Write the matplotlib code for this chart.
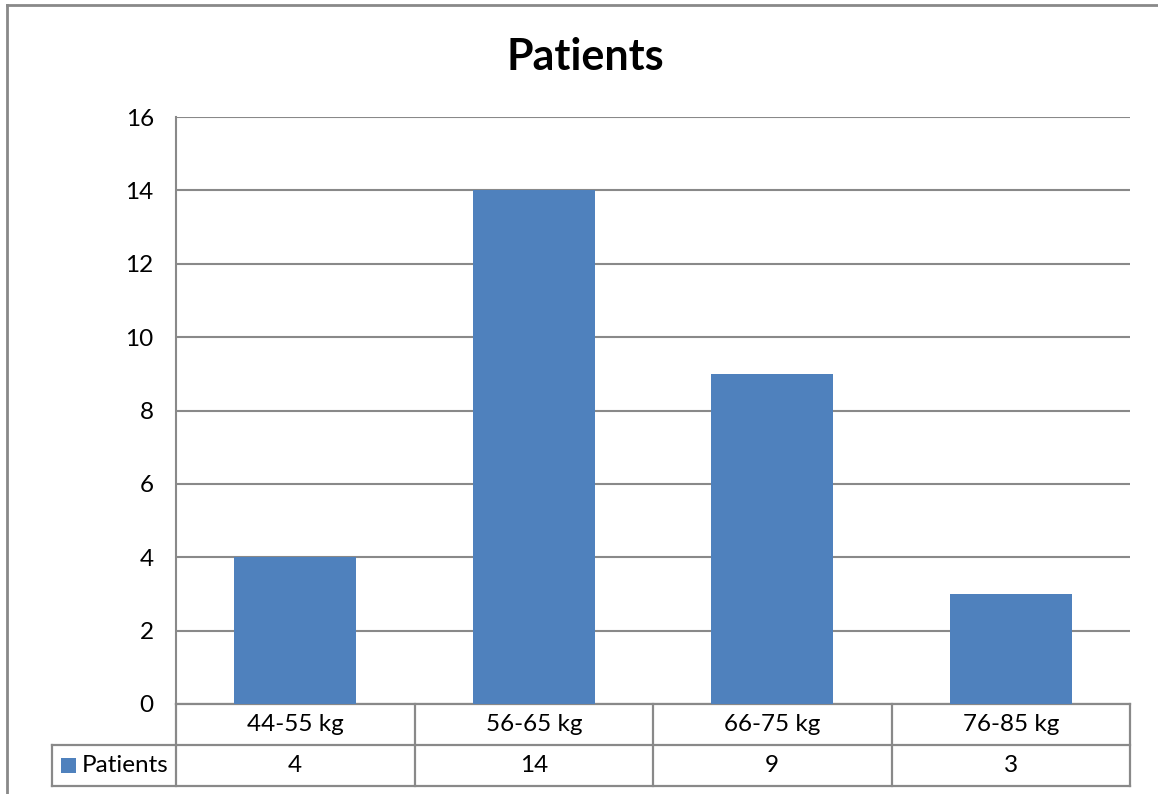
import matplotlib
matplotlib.use("Agg")
import matplotlib.pyplot as plt
import matplotlib.transforms as mtransforms
from matplotlib.patches import Rectangle

categories = ["44-55 kg", "56-65 kg", "66-75 kg", "76-85 kg"]
patients = [4, 14, 9, 3]
series_name = "Patients"
y_ticks = [0, 2, 4, 6, 8, 10, 12, 14, 16]

bar_color = "#4F81BD"
line_color = "#898989"

plt.rcParams["font.family"] = ["Lato", "DejaVu Sans"]

W, H = 1158, 794
fig = plt.figure(figsize=(W / 100, H / 100), dpi=100)

# plot area in pixels (left, top, right, bottom)
L, T, R, B = 176, 117, 1130, 704
ax = fig.add_axes([L / W, 1 - B / H, (R - L) / W, (B - T) / H])

x = list(range(len(categories)))
ax.bar(x, patients, width=0.51, color=bar_color, zorder=3)
ax.set_xlim(-0.5, len(categories) - 0.5)
ax.set_ylim(0, 16)
ax.set_yticks(y_ticks)
ax.set_xticks([])
ax.tick_params(axis="y", length=0, labelsize=17.5, pad=16)
ax.yaxis.grid(True, color=line_color, linewidth=1.5, zorder=0)
for s in ["top", "right", "bottom"]:
    ax.spines[s].set_visible(False)
ax.spines["left"].set_color(line_color)
ax.spines["left"].set_linewidth(1.5)

fig.text(585 / W, 1 - 57 / H, "Patients", ha="center", va="center",
         fontsize=31, fontweight="bold")

# data table under the plot
blend = mtransforms.blended_transform_factory(ax.transData, ax.transAxes)
ph = B - T
r1 = -(745 - B) / ph
r2 = -(786 - B) / ph
x0 = -0.5
x1 = len(categories) - 0.5
legend_left = x0 - (L - 52) / ((R - L) / len(categories))

kw = dict(color=line_color, linewidth=1.6, transform=blend, clip_on=False)
ax.plot([x0, x1], [0, 0], **kw)
ax.plot([legend_left, x1], [r1, r1], **kw)
ax.plot([legend_left, x1], [r2, r2], **kw)
ax.plot([legend_left, legend_left], [r1, r2], **kw)
for b in range(len(categories) + 1):
    ax.plot([x0 + b, x0 + b], [0, r2], **kw)

for i, (c, v) in enumerate(zip(categories, patients)):
    ax.text(i, r1 / 2, c, ha="center", va="center", fontsize=17.5,
            transform=blend)
    ax.text(i, (r1 + r2) / 2, str(v), ha="center", va="center",
            fontsize=17.5, transform=blend)

# legend key in the table
cell_w = (R - L) / len(categories)
key_x = legend_left + 9 / cell_w
key_w = 15 / cell_w
key_h = 15 / ph
ax.add_patch(Rectangle((key_x, (r1 + r2) / 2 - key_h / 2), key_w, key_h,
                       facecolor=bar_color, edgecolor="none",
                       transform=blend, clip_on=False))
ax.text(key_x + key_w + 6 / cell_w, (r1 + r2) / 2, series_name,
        ha="left", va="center", fontsize=17.5, transform=blend)

# outer chart frame
fig.add_artist(plt.Line2D([7 / W, 7 / W], [0, 1 - 5 / H], color=line_color,
                          linewidth=2, transform=fig.transFigure))
fig.add_artist(plt.Line2D([7 / W, 1], [1 - 5 / H, 1 - 5 / H], color=line_color,
                          linewidth=2, transform=fig.transFigure))

fig.savefig("out.png", dpi=100)
